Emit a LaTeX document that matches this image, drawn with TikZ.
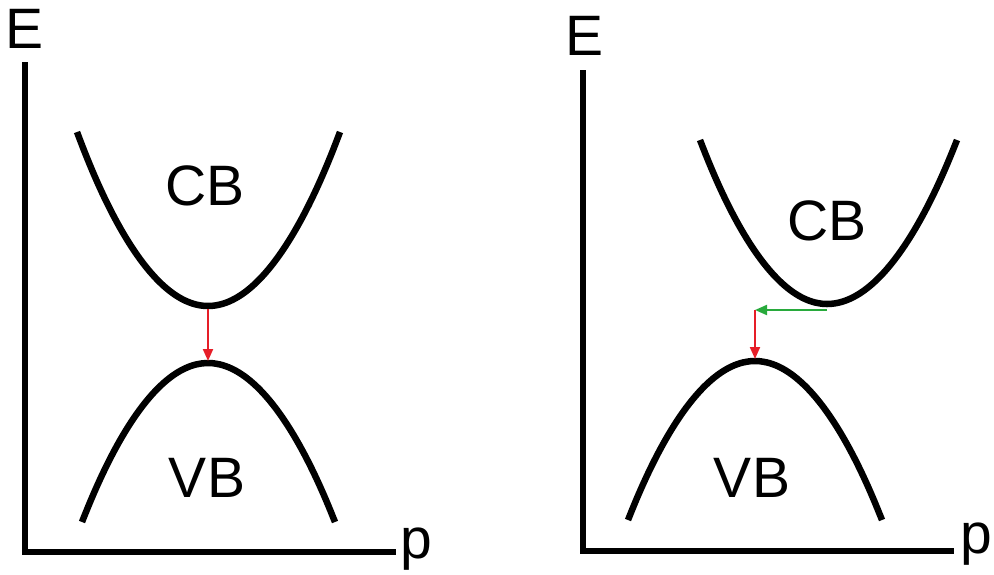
\documentclass[tikz,border=0pt]{standalone}
\usepackage{fontspec}
\setmainfont{Liberation Sans}
\usetikzlibrary{arrows.meta}
\definecolor{transred}{RGB}{230,30,40}
\definecolor{transgreen}{RGB}{40,170,60}
\tikzset{
    band/.style={line width=6.5pt,black},
    axis/.style={line width=6.5pt,black},
    lbl/.style={font=\fontsize{57}{60}\selectfont},
    trans/.style={line width=2pt,-{Triangle[length=12pt,width=10pt]}},
}
\begin{document}
\begin{tikzpicture}[x=1pt,y=-1pt]
    \useasboundingbox (0,0) rectangle (994,574);

    % Direct gap
    \coordinate (lorig) at (25,552);
    \draw[axis] (25,62) -- (lorig) -- (396,552);
    \node[lbl,anchor=base] (lE) at (25,48) {E};
    \node[lbl,anchor=base] (lp) at (416,558) {p};

    \coordinate (lcbmin) at (208,306);
    \coordinate (lvbmax) at (208,363);
    \draw[band] (77,132) parabola bend (lcbmin) (340,132);
    \draw[band] (82,522) parabola bend (lvbmax) (335,522);
    \node[lbl] (lCB) at (205,186) {CB};
    \node[lbl] (lVB) at (207,478) {VB};
    \draw[trans,transred] ([yshift=-3pt]lcbmin) -- ([yshift=2pt]lvbmax);

    % Indirect gap
    \coordinate (rorig) at (583,551);
    \draw[axis] (583,70) -- (rorig) -- (954,551);
    \node[lbl,anchor=base] (rE) at (585,55) {E};
    \node[lbl,anchor=base] (rp) at (976,553) {p};

    \coordinate (rcbmin) at (827,304);
    \coordinate (rvbmax) at (755,361);
    \coordinate (rstart) at (827,310);
    \coordinate (rmid) at (755,310);
    \draw[band] (700,140) parabola bend (rcbmin) (957,140);
    \draw[band] (628,520) parabola bend (rvbmax) (882,520);
    \node[lbl] (rCB) at (827,221) {CB};
    \node[lbl] (rVB) at (752,478) {VB};
    \draw[trans,transgreen] (rstart) -- (rmid);
    \draw[trans,transred] (rmid) -- ([yshift=2pt]rvbmax);
\end{tikzpicture}
\end{document}
